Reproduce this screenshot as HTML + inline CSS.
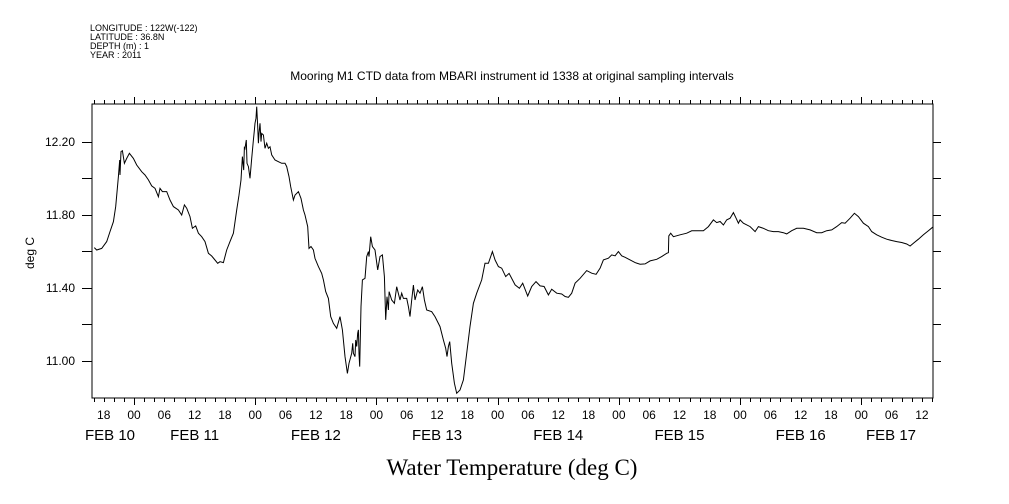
<!DOCTYPE html>
<html><head><meta charset="utf-8"><style>
html,body{margin:0;padding:0;background:#fff;}
svg{display:block;}
text{font-family:"Liberation Sans",sans-serif;fill:#000;}
</style></head><body>
<svg id="chart" width="1009" height="504" viewBox="0 0 1009 504" xmlns="http://www.w3.org/2000/svg">
<g font-size="9">
<text x="90" y="31">LONGITUDE : 122W(-122)</text>
<text x="90" y="40">LATITUDE : 36.8N</text>
<text x="90" y="49">DEPTH (m) : 1</text>
<text x="90" y="58">YEAR : 2011</text>
</g>
<text x="512" y="80" text-anchor="middle" font-size="12">Mooring M1 CTD data from MBARI instrument id 1338 at original sampling intervals</text>
<text transform="translate(34,253) rotate(-90)" text-anchor="middle" font-size="12">deg C</text>
<text x="512" y="475" text-anchor="middle" font-size="23" style="font-family:'Liberation Serif',serif">Water Temperature (deg C)</text>
<rect x="92" y="104" width="841" height="294" fill="none" stroke="#000" stroke-width="1"/>
<g id="axes"></g>
<g id="series"></g>
</svg>
<script>
const hours = [-7.86,-7.39,-6.40,-5.41,-4.75,-4.09,-3.63,-3.10,-2.84,-2.77,-2.57,-2.31,-1.91,-1.45,-0.92,-0.13,0.53,1.52,2.18,2.84,3.50,4.16,4.82,5.15,5.61,6.47,7.13,7.79,8.78,9.44,9.97,10.43,11.09,11.55,12.21,12.74,13.40,14.06,14.72,15.38,16.04,16.57,17.03,17.69,18.35,19.01,19.67,20.33,20.79,21.19,21.45,21.72,21.85,21.98,22.24,22.38,22.64,22.97,23.30,23.63,23.83,23.96,24.16,24.29,24.49,24.62,24.75,24.95,25.15,25.28,25.61,25.94,26.27,26.60,26.93,27.26,27.92,28.58,29.24,29.90,30.23,30.69,31.02,31.55,31.88,32.54,33.07,33.53,33.86,34.39,34.65,35.05,35.51,35.84,36.50,37.16,37.49,37.95,38.48,38.94,39.47,40.13,40.79,41.25,41.78,42.24,42.57,43.10,43.30,43.43,43.76,43.90,44.09,44.29,44.42,44.55,44.69,44.95,45.21,45.74,46.07,46.40,46.53,46.86,47.19,47.72,48.25,48.71,49.18,49.57,49.83,50.10,50.36,50.50,51.02,51.55,52.01,52.67,53.00,53.33,53.99,54.32,54.65,54.98,55.31,55.64,56.17,56.63,57.10,57.49,57.95,58.94,59.60,60.59,61.25,61.72,61.98,62.24,62.51,62.90,63.43,63.89,64.55,65.21,65.88,66.53,67.19,67.85,68.84,69.50,70.16,70.96,71.49,72.15,72.81,73.60,74.26,75.45,76.30,76.96,77.95,78.75,79.60,80.40,81.19,82.05,82.71,83.70,84.69,85.35,86.01,86.67,87.33,88.32,89.64,90.63,91.49,92.28,92.94,93.93,94.59,95.25,95.91,96.57,97.23,98.22,99.21,100.20,101.19,102.18,103.50,104.49,105.48,105.81,105.88,106.27,106.80,108.12,109.44,110.43,112.74,113.73,114.72,115.38,116.04,116.70,117.36,118.02,118.68,119.21,119.67,120.00,120.66,121.98,122.97,123.63,124.62,125.61,126.60,127.59,128.58,129.24,130.23,131.22,132.54,133.86,135.18,136.17,137.16,138.15,139.14,140.13,140.79,141.78,142.64,143.43,144.42,145.41,146.07,147.06,148.05,149.04,150.03,151.02,152.01,153.00,153.66,154.32,155.31,156.30,157.29,158.15];
const temps = [11.621,11.608,11.617,11.654,11.709,11.763,11.846,12.010,12.101,12.019,12.147,12.152,12.083,12.110,12.138,12.110,12.074,12.037,12.019,11.992,11.959,11.946,11.900,11.946,11.928,11.928,11.882,11.846,11.827,11.800,11.855,11.837,11.791,11.727,11.740,11.700,11.681,11.654,11.590,11.575,11.553,11.535,11.544,11.539,11.608,11.654,11.700,11.827,11.909,11.992,12.120,12.046,12.174,12.165,12.211,12.083,12.065,12.001,12.110,12.211,12.266,12.302,12.330,12.393,12.284,12.193,12.247,12.302,12.202,12.247,12.238,12.165,12.193,12.165,12.174,12.129,12.101,12.092,12.083,12.083,12.065,12.010,11.955,11.882,11.909,11.928,11.891,11.827,11.800,11.736,11.617,11.627,11.608,11.562,11.517,11.480,11.444,11.380,11.343,11.243,11.206,11.179,11.243,11.170,11.024,10.932,10.987,11.042,11.097,11.042,11.024,11.115,11.079,11.152,11.170,11.042,10.969,11.298,11.444,11.453,11.572,11.599,11.572,11.681,11.627,11.608,11.499,11.572,11.581,11.462,11.225,11.352,11.279,11.380,11.334,11.316,11.407,11.334,11.371,11.343,11.343,11.298,11.243,11.334,11.416,11.334,11.389,11.371,11.407,11.334,11.279,11.270,11.243,11.188,11.115,11.069,11.024,11.079,11.106,10.987,10.878,10.823,10.841,10.896,11.042,11.188,11.316,11.371,11.444,11.535,11.535,11.599,11.553,11.517,11.508,11.462,11.480,11.417,11.398,11.426,11.356,11.408,11.435,11.411,11.408,11.362,11.393,11.371,11.367,11.353,11.349,11.371,11.426,11.453,11.495,11.481,11.475,11.508,11.554,11.563,11.581,11.576,11.599,11.576,11.568,11.554,11.539,11.530,11.532,11.548,11.557,11.572,11.590,11.594,11.685,11.700,11.681,11.691,11.700,11.713,11.714,11.736,11.773,11.758,11.764,11.745,11.773,11.782,11.813,11.782,11.755,11.773,11.755,11.736,11.709,11.736,11.727,11.714,11.709,11.709,11.703,11.696,11.714,11.727,11.727,11.718,11.703,11.703,11.714,11.718,11.736,11.758,11.755,11.782,11.809,11.791,11.755,11.736,11.709,11.691,11.678,11.667,11.660,11.654,11.649,11.641,11.630,11.645,11.667,11.691,11.714,11.733];
const yTicks = [12.2,12.0,11.8,11.6,11.4,11.2,11.0];
const yTickLabels = ["12.20","","11.80","","11.40","","11.00"];
const hourLabels = ["18","00","06","12"];
const dateLabels = ["FEB 10","FEB 11","FEB 12","FEB 13","FEB 14","FEB 15","FEB 16","FEB 17"];

const X0=92,X1=933,Y0=104,Y1=398;
const hMin=-8.32,hMax=158.2,vMin=10.797,vMax=12.408;
const xs=h=>X0+(h-hMin)/(hMax-hMin)*(X1-X0);
const ys=v=>Y1-(v-vMin)/(vMax-vMin)*(Y1-Y0);
const NS='http://www.w3.org/2000/svg';
const axes=document.getElementById('axes');
const series=document.getElementById('series');
function mk(tag,attrs,parent){const e=document.createElementNS(NS,tag);for(const k in attrs)e.setAttribute(k,attrs[k]);parent.appendChild(e);return e;}

let tp='';
for(let h=Math.ceil(hMin/2)*2;h<=hMax;h+=2){
  const x=Math.round(xs(h))+0.5;
  const major=((h%24)+24)%24===0;
  const L=major?7:4;
  tp+=`M${x},${Y0}V${Y0-L}M${x},${Y1}V${Y1+L}`;
}
yTicks.forEach(v=>{const y=Math.round(ys(v))+0.5;tp+=`M${X0},${y}H${X0-10}M${X1},${y}H${X1+8}`;});
const tk=mk('path',{d:tp,stroke:'#000','stroke-width':1,fill:'none'},axes);



yTicks.forEach((v,i)=>{
  if(!yTickLabels[i])return;
  const t=mk('text',{x:75,y:ys(v)+4,'text-anchor':'end','font-size':12},axes);
  t.textContent=yTickLabels[i];
  
  
});
for(let h=Math.ceil(hMin/6)*6;h<=hMax;h+=6){
  const hod=((h%24)+24)%24;
  const t=mk('text',{x:xs(h),y:419,'text-anchor':'middle','font-size':12},axes);
  t.textContent=hourLabels[[18,0,6,12].indexOf(hod)];
  
  
}
dateLabels.forEach((d,i)=>{
  let h=(i-1)*24+12;
  let x=xs(h);
  if(i===0)x=110; if(i===dateLabels.length-1)x=891;
  const t=mk('text',{x:x,y:440,'text-anchor':'middle','font-size':15},axes);
  t.textContent=d;
  
  
});

const d=hours.map((h,i)=>(i?'L':'M')+xs(h).toFixed(1)+','+ys(temps[i]).toFixed(1)).join('');
const ln=mk('path',{d:d,stroke:'#000','stroke-width':1,fill:'none','stroke-linejoin':'miter'},series);


</script>
</body></html>
